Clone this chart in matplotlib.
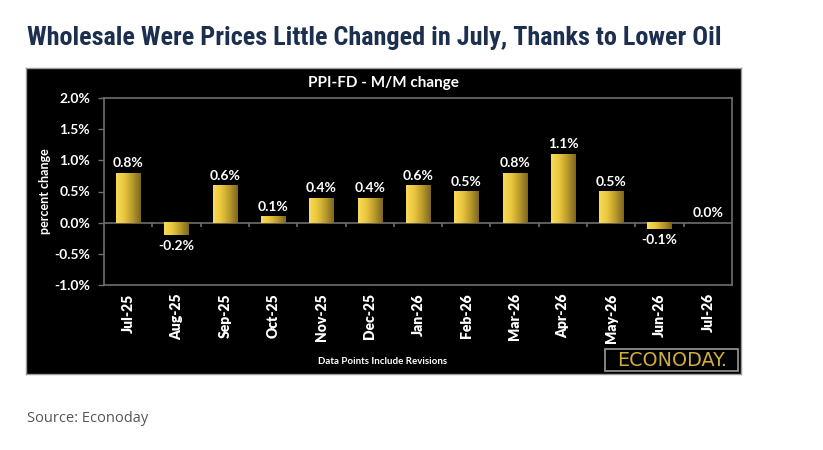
import matplotlib
matplotlib.use("Agg")
import matplotlib.pyplot as plt
import numpy as np
from matplotlib.colors import LinearSegmentedColormap
from matplotlib.patches import Rectangle
from matplotlib import font_manager

categories = ["Jul-25", "Aug-25", "Sep-25", "Oct-25", "Nov-25", "Dec-25", "Jan-26",
              "Feb-26", "Mar-26", "Apr-26", "May-26", "Jun-26", "Jul-26"]
values = [0.8, -0.2, 0.6, 0.1, 0.4, 0.4, 0.6, 0.5, 0.8, 1.1, 0.5, -0.1, 0.0]
yticks = [-1.0, -0.5, 0.0, 0.5, 1.0, 1.5, 2.0]

W, H = 823, 450
fig = plt.figure(figsize=(W / 100, H / 100), dpi=100)
fig.patch.set_facecolor("white")

def fx(px): return px / W
def fy(py): return 1 - py / H

names = {f.name for f in font_manager.fontManager.ttflist}
title_fam = "Roboto"
for cand in ["Roboto Condensed", "Liberation Sans Narrow", "Open Sans Condensed", "DejaVu Sans Condensed"]:
    if cand in names:
        title_fam = cand
        break

renderer = fig.canvas.get_renderer()

def fit_text(t, target_px):
    for _ in range(3):
        bb = t.get_window_extent(renderer=renderer)
        t.set_fontsize(t.get_fontsize() * target_px / bb.width)

# Page title
title = fig.text(fx(27), fy(38), "Wholesale Were Prices Little Changed in July, Thanks to Lower Oil",
                 family=[title_fam, "DejaVu Sans"], fontweight="bold", fontsize=18,
                 color="#1d2f4f", ha="left", va="center")
fit_text(title, 695)

# Black panel
panel = fig.add_axes([fx(26), fy(374), fx(741) - fx(26), fy(68) - fy(374)])
panel.set_facecolor("black")
panel.set_xticks([]); panel.set_yticks([])
for s in panel.spines.values():
    s.set_color("#9a9a9a"); s.set_linewidth(1.0)
panel.set_zorder(0)

fontfam = ["Lato", "DejaVu Sans"]

fig.text(fx(383), fy(83), "PPI-FD - M/M change", color="white", fontsize=11,
         fontweight="bold", family=fontfam, ha="center", va="center")

ax = fig.add_axes([fx(104), fy(285), fx(732) - fx(104), fy(98) - fy(285)])
ax.set_zorder(1)
ax.set_facecolor("none")
ax.set_xlim(-0.5, len(categories) - 0.5)
ax.set_ylim(-1.0, 2.0)
for s in ax.spines.values():
    s.set_color("#6e6e6e"); s.set_linewidth(1.2)

ax.set_yticks(yticks)
ax.set_yticklabels([f"{v:.1f}%" for v in yticks], color="white", fontsize=10,
                   fontweight="bold", family=fontfam)
ax.tick_params(axis="y", colors="#6e6e6e", length=4, width=1, labelcolor="white", pad=6)

x = np.arange(len(categories))
ax.set_xticks(x)
ax.set_xticklabels(categories, rotation=90, color="white", fontsize=10,
                   fontweight="heavy", family=fontfam, va="top")
ax.tick_params(axis="x", length=0, pad=6, labelcolor="white")

ax.set_ylabel("percent change", color="white", fontsize=9, fontweight="bold",
              family=fontfam, labelpad=2)

# zero line and category separators
ax.axhline(0, color="#6e6e6e", lw=1.2, zorder=1)
bounds = x[:-1] + 0.5
ax.vlines(bounds, -0.07, 0.0, color="#6e6e6e", lw=1.2, zorder=1)

# Bars with horizontal gradient
cmap = LinearSegmentedColormap.from_list("gold", ["#f8dc58", "#e9c63e", "#b99a2c", "#7c6720"])
grad = np.linspace(0, 1, 64).reshape(1, -1)
bars = ax.bar(x, values, width=0.5, color="none", edgecolor="none", zorder=2)
for b in bars:
    x0, y0 = b.get_x(), b.get_y()
    w, h = b.get_width(), b.get_height()
    if h == 0:
        continue
    ylo, yhi = min(y0, y0 + h), max(y0, y0 + h)
    ax.imshow(grad, cmap=cmap, aspect="auto", extent=[x0, x0 + w, ylo, yhi],
              zorder=2, interpolation="bicubic")
ax.set_xlim(-0.5, len(categories) - 0.5)
ax.set_ylim(-1.0, 2.0)

for xi, v in zip(x, values):
    if v >= 0:
        ax.text(xi, v + 0.06, f"{v:.1f}%", color="white", fontsize=10, fontweight="bold",
                family=fontfam, ha="center", va="bottom")
    else:
        ax.text(xi, v - 0.08, f"{v:.1f}%", color="white", fontsize=10, fontweight="bold",
                family=fontfam, ha="center", va="top")

fig.text(fx(383), fy(362), "Data Points Include Revisions", color="white", fontsize=7,
         fontweight="bold", family=fontfam, ha="center", va="center")

# Econoday logo box
fig.patches.append(Rectangle((fx(605), fy(371)), fx(738) - fx(605), fy(349) - fy(371),
                             transform=fig.transFigure, facecolor="black",
                             edgecolor="#9a9a9a", lw=1.2, zorder=5))
logo = fig.text(fx(672), fy(360), "ECONODAY.", color="#cfae3c", fontsize=10, fontweight="normal",
                family=["DejaVu Sans"], ha="center", va="center", zorder=6)
fit_text(logo, 110)

fig.text(fx(27), fy(418), "Source: Econoday", color="#555555", fontsize=10.5,
         family=["Open Sans", "DejaVu Sans"], ha="left", va="center")

fig.savefig("out.png", dpi=100, facecolor="white")
